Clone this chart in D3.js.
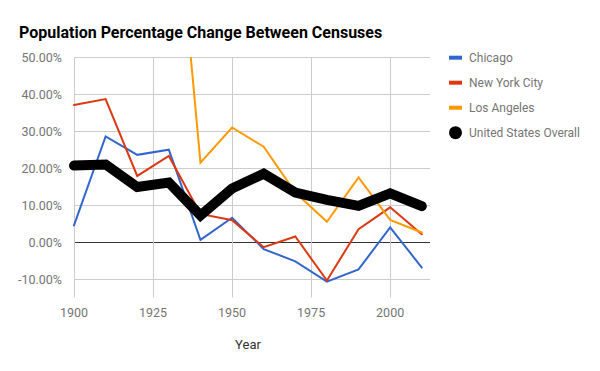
<!DOCTYPE html>
<html>
<head>
<meta charset="UTF-8">
<title>Population Percentage Change Between Censuses</title>
<script src="https://d3js.org/d3.v7.min.js"></script>
<style>
  body { margin: 0; background: #fff; }
  svg text { font-family: Roboto, "Noto Sans", sans-serif; }
</style>
</head>
<body>
<svg id="chart" width="600" height="371"></svg>
<script>
// census years and percent change from previous census
var years = [1900, 1910, 1920, 1930, 1940, 1950, 1960, 1970, 1980, 1990, 2000, 2010];
var chicago = [4.5, 28.6, 23.6, 25.0, 0.6, 6.6, -1.9, -5.2, -10.7, -7.4, 4.0, -6.9];
var newYork = [37.1, 38.7, 17.9, 23.3, 7.6, 5.9, -1.4, 1.5, -10.4, 3.5, 9.4, 2.1];
var losAngeles = [103.4, 211.5, 80.7, 114.7, 21.5, 31.0, 25.8, 13.4, 5.5, 17.5, 6.0, 2.6];
var usOverall = [20.7, 21.0, 14.9, 16.1, 7.2, 14.5, 18.5, 13.4, 11.4, 9.8, 13.2, 9.7];

var seriesNames = ["Chicago", "New York City", "Los Angeles", "United States Overall"];
var seriesColors = ["#3366cc", "#dc3912", "#ff9900", "#000000"];
var seriesWidths = [2, 2, 2, 10];

var xTicks = [1900, 1925, 1950, 1975, 2000];
var yTicks = [-10, 0, 10, 20, 30, 40, 50];

var svg = d3.select("#chart");

var plotLeft = 74, plotRight = 430, plotTop = 57.3, plotBottom = 297.5;

var x = d3.scaleLinear().domain([1900, 2012.6]).range([plotLeft, plotRight]);
var y = d3.scaleLinear().domain([-15, 50]).range([plotBottom, plotTop]);

svg.append("text")
    .attr("x", 19).attr("y", 38)
    .attr("font-size", 16).attr("font-weight", "bold").attr("fill", "#000")
    .text("Population Percentage Change Between Censuses");

// grid
var grid = svg.append("g");
grid.selectAll("line.h").data(yTicks).enter().append("line")
    .attr("x1", plotLeft).attr("x2", plotRight)
    .attr("y1", function (d) { return Math.round(y(d)) + 0.5; })
    .attr("y2", function (d) { return Math.round(y(d)) + 0.5; })
    .attr("stroke", function (d) { return d == 0 ? "#333" : "#ccc"; })
    .attr("stroke-width", 1);
grid.selectAll("line.v").data(xTicks).enter().append("line")
    .attr("y1", plotTop).attr("y2", plotBottom)
    .attr("x1", function (d) { return Math.round(x(d)) + 0.5; })
    .attr("x2", function (d) { return Math.round(x(d)) + 0.5; })
    .attr("stroke", "#ccc").attr("stroke-width", 1);

// axis labels
svg.append("g").selectAll("text").data(yTicks).enter().append("text")
    .attr("x", 62).attr("y", function (d) { return y(d) + 4.5; })
    .attr("text-anchor", "end").attr("font-size", 12.5).attr("fill", "#757575")
    .text(function (d) { return d.toFixed(2) + "%"; });

svg.append("g").selectAll("text").data(xTicks).enter().append("text")
    .attr("x", function (d) { return x(d); }).attr("y", 316.5)
    .attr("text-anchor", "middle").attr("font-size", 12.5).attr("fill", "#757575")
    .text(function (d) { return d; });

svg.append("text")
    .attr("x", 248).attr("y", 349)
    .attr("text-anchor", "middle").attr("font-size", 13).attr("fill", "#333")
    .text("Year");

// lines
svg.append("clipPath").attr("id", "plot")
    .append("rect").attr("x", plotLeft - 10).attr("y", plotTop)
    .attr("width", plotRight - plotLeft + 20).attr("height", plotBottom - plotTop);

var allSeries = [chicago, newYork, losAngeles, usOverall];
var line = d3.line()
    .x(function (d, i) { return x(years[i]); })
    .y(function (d) { return y(d); });

svg.append("g").attr("clip-path", "url(#plot)")
    .selectAll("path").data(allSeries).enter().append("path")
    .attr("d", line)
    .attr("fill", "none")
    .attr("stroke", function (d, i) { return seriesColors[i]; })
    .attr("stroke-width", function (d, i) { return seriesWidths[i]; })
    .attr("stroke-linejoin", "miter")
    .attr("stroke-linecap", "round");

// legend
var legend = svg.append("g").selectAll("g").data(seriesNames).enter().append("g")
    .attr("transform", function (d, i) { return "translate(449," + (57.7 + i * 25) + ")"; });
legend.each(function (d, i) {
    var g = d3.select(this);
    if (i < 3) {
        g.append("rect").attr("x", 0).attr("y", -2).attr("width", 13).attr("height", 4)
            .attr("fill", seriesColors[i]);
    } else {
        g.append("circle").attr("cx", 6.5).attr("cy", 0).attr("r", 6.5).attr("fill", "#000");
    }
    g.append("text").attr("x", 20).attr("y", 4.5)
        .attr("font-size", 12).attr("fill", "#757575").text(d);
});
</script>
</body>
</html>
